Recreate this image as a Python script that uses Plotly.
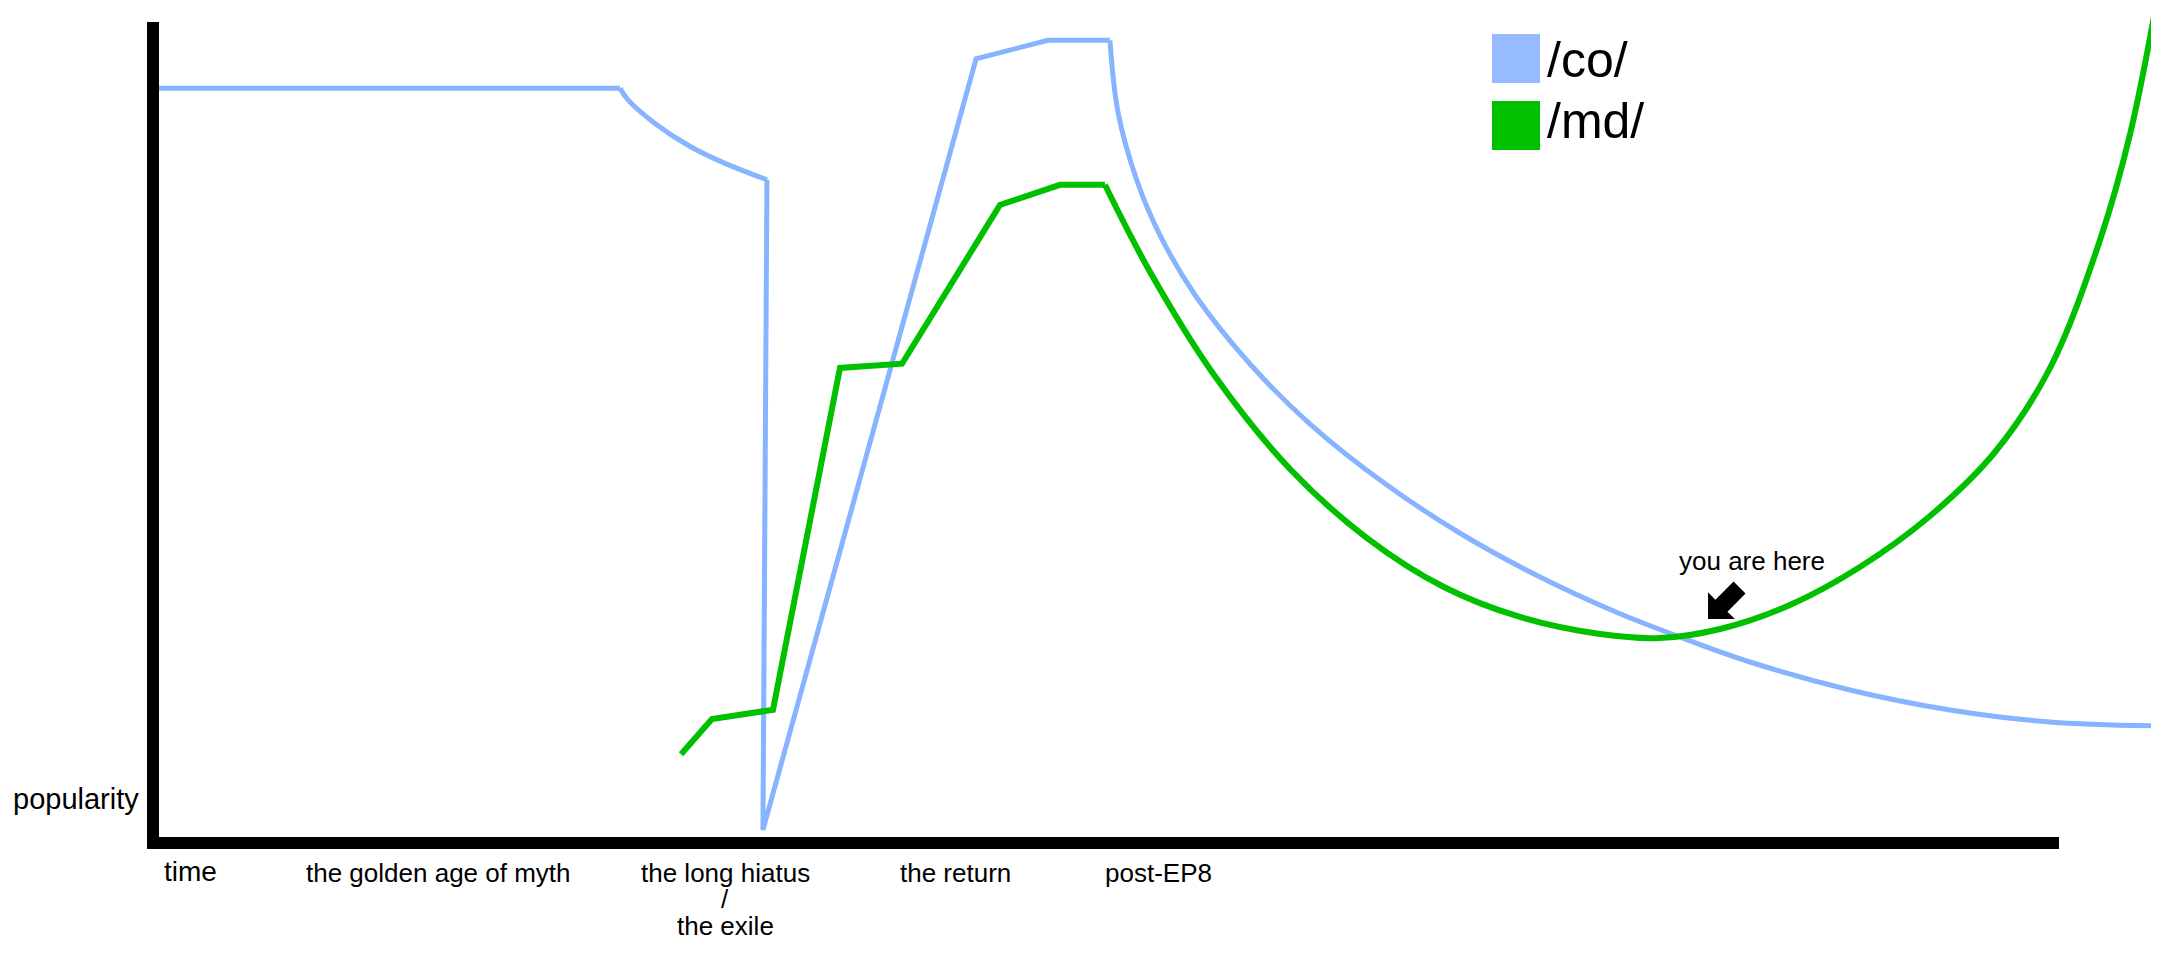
import plotly.graph_objects as go

# ---------------- data ----------------
series_names = ["/co/", "/md/"]
series_colors = ["#88B4FF", "#00C000"]
legend_colors = ["#96BBFF", "#00C000"]

co_time = [0.35, 23.32, 23.72, 25.01, 26.86, 28.70, 30.64, 30.44, 41.06, 44.64, 47.73,
           48.13, 49.08, 50.22, 51.97, 54.71, 57.70, 61.53, 65.32, 69.16, 72.94,
           75.98, 79.62, 84.60, 89.59, 94.57, 100.0]
co_pop = [89.5, 89.5, 88.1, 85.4, 82.5, 80.4, 78.6, 1.2, 93.0, 95.2, 95.2,
          86.67, 78.45, 72.02, 64.88, 56.67, 49.52, 42.26, 36.31, 31.31, 27.14,
          24.29, 21.19, 17.86, 15.48, 14.05, 13.57]
# (first index, last index, line shape) of the pieces of the /co/ line
co_pieces = [(0, 1, "linear"), (1, 6, "spline"), (6, 10, "linear"), (10, 26, "spline")]

md_time = [26.36, 27.90, 30.94, 34.28, 37.37, 42.25, 45.24, 47.48,
           49.73, 52.92, 56.75, 60.54, 64.37, 68.16, 72.15, 75.14, 78.13, 81.61,
           85.10, 88.59, 91.83, 94.57, 97.06, 98.56, 99.90]
md_pop = [10.2, 14.4, 15.5, 56.2, 56.7, 75.6, 78.0, 78.0,
          67.62, 55.36, 44.05, 35.95, 30.12, 26.55, 24.52, 24.05, 25.12, 27.98,
          32.50, 38.57, 46.19, 56.19, 71.43, 84.05, 100.0]
md_pieces = [(0, 7, "linear"), (7, 24, "spline")]

period_labels = ["the golden age of myth", "the long hiatus", "the return", "post-EP8"]
period_time = [14.25, 28.57, 40.05, 50.17]
hiatus_extra = ["/", "the exile"]

x_title = "time"
y_title = "popularity"
marker_text = "you are here"
marker_time = 77.53
marker_pop = 26.3

# ---------------- layout geometry (page pixels) ----------------
PAGE_W, PAGE_H = 2159, 958
BODY = 8                      # default <body> margin of the page
W, H = PAGE_W - BODY, PAGE_H - BODY
PLOT_L, PLOT_R, PLOT_T, PLOT_B = 152, 2159, 8, 840   # plot area on the page
Y_PER_UNIT = 8.4
FONT = "Liberation Sans, Arial, Helvetica, sans-serif"


def px(X, Y):
    """page pixel position -> paper coordinates"""
    return (X - PLOT_L) / (PLOT_R - PLOT_L), (PLOT_B - Y) / (PLOT_B - PLOT_T)


fig = go.Figure()
for name, col, wid, tt, pp, pieces in [
        (series_names[0], series_colors[0], 5, co_time, co_pop, co_pieces),
        (series_names[1], series_colors[1], 6, md_time, md_pop, md_pieces)]:
    for a, b, shp in pieces:
        fig.add_trace(go.Scatter(x=tt[a:b + 1], y=pp[a:b + 1], mode="lines", name=name,
                                 line=dict(color=col, width=wid, shape=shp, smoothing=1.0),
                                 showlegend=False, hoverinfo="skip"))

shapes = []
# axes drawn as thick black strokes
x0, y0 = px(147, 843)
x1, _ = px(2059, 843)
shapes.append(dict(type="line", xref="paper", yref="paper", x0=x0, x1=x1, y0=y0, y1=y0,
                   line=dict(color="black", width=12)))
ax0, ay0 = px(153, 22)
_, ay1 = px(153, 849)
shapes.append(dict(type="line", xref="paper", yref="paper", x0=ax0, x1=ax0, y0=ay0, y1=ay1,
                   line=dict(color="black", width=12)))

# legend boxes
legend_rows = [(34, 83, 60), (101, 150, 121)]
annotations = []
for name, col, (top, bot, mid) in zip(series_names, legend_colors, legend_rows):
    lx0, ly0 = px(1492, bot)
    lx1, ly1 = px(1540, top)
    shapes.append(dict(type="rect", xref="paper", yref="paper", x0=lx0, x1=lx1, y0=ly0, y1=ly1,
                       fillcolor=col, line=dict(width=0)))
    tx, ty = px(1545, mid)
    annotations.append(dict(xref="paper", yref="paper", x=tx, y=ty, text=name, showarrow=False,
                            xanchor="left", yanchor="middle",
                            font=dict(family=FONT, size=50, color="black")))

# "you are here" block arrow, pixel-sized, anchored at the marked point
shapes.append(dict(type="path", xref="x", yref="y", xsizemode="pixel", ysizemode="pixel",
                   xanchor=marker_time, yanchor=marker_pop,
                   path="M0,0 L0,26.9 L7.4,19.4 L25.5,37.5 L37.5,25.5 L19.4,7.4 L26.9,0 Z",
                   fillcolor="black", line=dict(width=0)))

mx, my = px(1752, 561)
annotations.append(dict(xref="paper", yref="paper", x=mx, y=my, text=marker_text, showarrow=False,
                        xanchor="center", yanchor="middle",
                        font=dict(family=FONT, size=26, color="black")))

# period labels below the time axis
_, lab_y = px(0, 873)
for lab, t in zip(period_labels, period_time):
    annotations.append(dict(xref="x", yref="paper", x=t, y=lab_y, text=lab, showarrow=False,
                            xanchor="center", yanchor="middle",
                            font=dict(family=FONT, size=26, color="black")))
for txt, ypx in zip(hiatus_extra, [899, 926]):
    _, yy = px(0, ypx)
    annotations.append(dict(xref="x", yref="paper", x=period_time[1], y=yy, text=txt,
                            showarrow=False, xanchor="center", yanchor="middle",
                            font=dict(family=FONT, size=26, color="black")))

# axis titles
tx, ty = px(162, 871)
annotations.append(dict(xref="paper", yref="paper", x=tx, y=ty, text=x_title, showarrow=False,
                        xanchor="left", yanchor="middle",
                        font=dict(family=FONT, size=28, color="black")))
px_, py_ = px(141, 799)
annotations.append(dict(xref="paper", yref="paper", x=px_, y=py_, text=y_title, showarrow=False,
                        xanchor="right", yanchor="middle",
                        font=dict(family=FONT, size=29, color="black")))

fig.update_layout(
    width=W, height=H,
    margin=dict(l=PLOT_L - BODY, r=PAGE_W - PLOT_R, t=PLOT_T - BODY, b=PAGE_H - PLOT_B, pad=0),
    paper_bgcolor="white", plot_bgcolor="white",
    xaxis=dict(range=[0, 100], visible=False, fixedrange=True),
    yaxis=dict(range=[0, (PLOT_B - PLOT_T) / Y_PER_UNIT], visible=False, fixedrange=True),
    shapes=shapes, annotations=annotations,
    showlegend=False,
    font=dict(family=FONT, color="black"),
)

fig.write_html("out.html", config={"displayModeBar": False})
